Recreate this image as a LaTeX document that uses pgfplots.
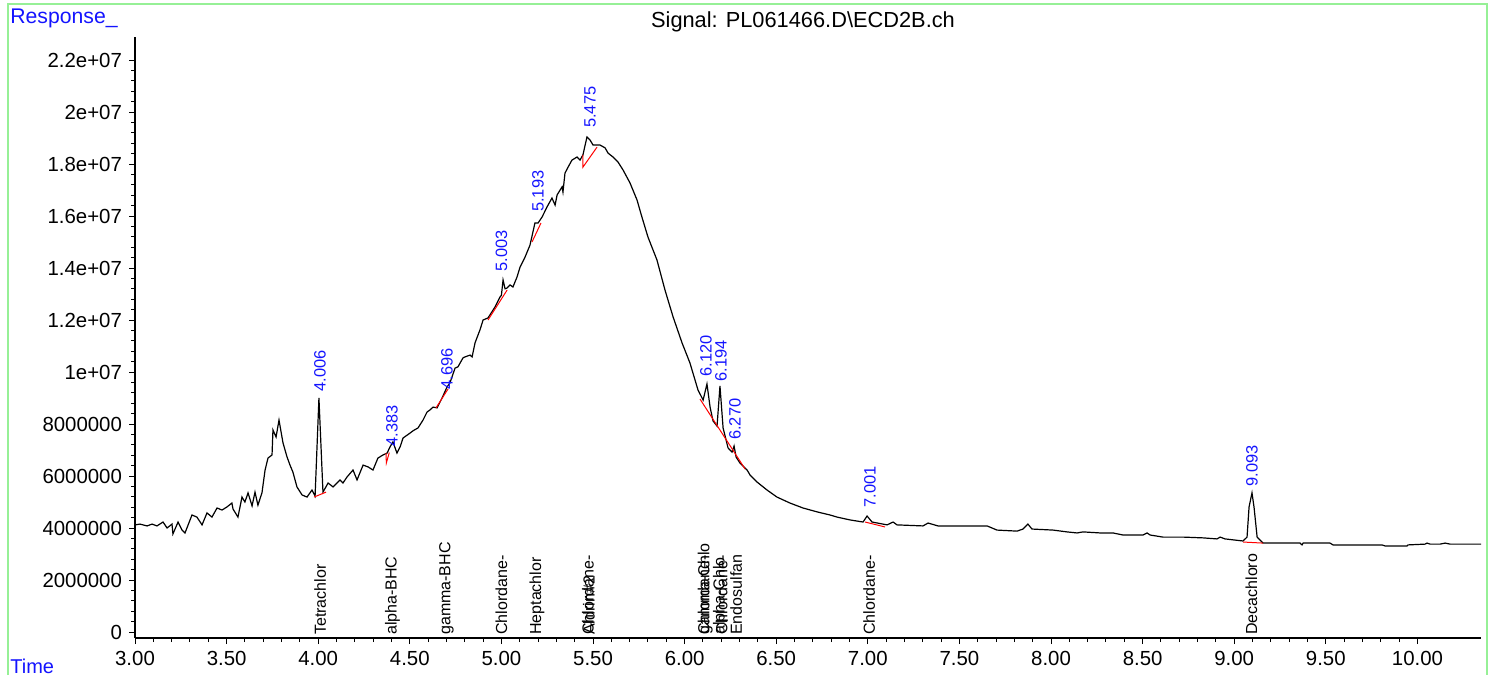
\documentclass[border=0pt]{standalone}
\usepackage{fontspec}
\setmainfont{Liberation Sans}
\usepackage{pgfplots}
\pgfplotsset{compat=1.18}
\definecolor{framegreen}{RGB}{150,240,150}
\definecolor{rtblue}{RGB}{20,20,255}

\pgfplotstableread{
t R
3.000 4.12e6
3.027 4.15e6
3.066 4.08e6
3.093 4.15e6
3.120 4.08e6
3.153 4.23e6
3.175 4.00e6
3.202 4.15e6
3.207 3.77e6
3.235 4.23e6
3.257 3.92e6
3.273 3.81e6
3.311 4.50e6
3.338 4.42e6
3.366 4.12e6
3.393 4.58e6
3.420 4.42e6
3.448 4.77e6
3.475 4.69e6
3.502 4.81e6
3.529 4.96e6
3.535 4.73e6
3.562 4.42e6
3.584 5.19e6
3.600 5.00e6
3.617 5.35e6
3.639 4.85e6
3.655 5.38e6
3.671 4.88e6
3.693 5.35e6
3.710 6.23e6
3.726 6.69e6
3.748 6.81e6
3.753 7.77e6
3.770 7.50e6
3.786 8.15e6
3.808 7.27e6
3.830 6.73e6
3.846 6.42e6
3.862 6.15e6
3.884 5.58e6
3.912 5.27e6
3.939 5.19e6
3.966 5.46e6
3.983 5.23e6
4.004 9.00e6
4.026 5.38e6
4.054 5.73e6
4.081 5.58e6
4.119 5.85e6
4.135 5.73e6
4.157 5.96e6
4.190 6.23e6
4.212 5.85e6
4.245 6.42e6
4.272 6.35e6
4.299 6.23e6
4.326 6.69e6
4.354 6.81e6
4.376 6.88e6
4.392 7.12e6
4.408 7.31e6
4.430 6.88e6
4.447 7.12e6
4.463 7.46e6
4.501 7.65e6
4.520 7.75e6
4.545 7.85e6
4.572 8.15e6
4.594 8.46e6
4.610 8.54e6
4.627 8.65e6
4.649 8.62e6
4.676 9.00e6
4.703 9.42e6
4.719 9.58e6
4.747 10.15e6
4.763 10.20e6
4.790 10.54e6
4.801 10.58e6
4.829 10.65e6
4.840 10.58e6
4.856 11.12e6
4.883 11.62e6
4.900 12.00e6
4.927 12.08e6
4.965 12.50e6
4.992 12.88e6
5.000 12.95e6
5.009 13.54e6
5.020 13.20e6
5.031 13.23e6
5.047 13.35e6
5.063 13.27e6
5.085 13.65e6
5.102 14.04e6
5.129 14.42e6
5.156 14.88e6
5.183 15.73e6
5.200 15.73e6
5.222 15.96e6
5.249 16.35e6
5.276 16.69e6
5.293 16.42e6
5.304 16.81e6
5.331 17.12e6
5.336 16.92e6
5.347 17.65e6
5.364 17.88e6
5.385 18.15e6
5.413 18.27e6
5.429 18.15e6
5.445 18.35e6
5.467 19.04e6
5.484 18.92e6
5.500 18.73e6
5.538 18.73e6
5.566 18.62e6
5.582 18.42e6
5.609 18.27e6
5.636 18.08e6
5.664 17.77e6
5.702 17.27e6
5.740 16.62e6
5.767 15.96e6
5.800 15.19e6
5.849 14.31e6
5.893 13.15e6
5.937 12.12e6
5.986 11.12e6
6.029 10.35e6
6.073 9.31e6
6.101 8.92e6
6.122 9.54e6
6.139 8.65e6
6.155 8.12e6
6.177 7.92e6
6.193 9.46e6
6.210 7.85e6
6.237 7.08e6
6.259 6.92e6
6.270 7.15e6
6.281 6.73e6
6.302 6.50e6
6.341 6.23e6
6.357 6.04e6
6.395 5.77e6
6.450 5.46e6
6.504 5.19e6
6.575 4.96e6
6.646 4.77e6
6.723 4.62e6
6.794 4.50e6
6.832 4.42e6
6.903 4.31e6
6.974 4.23e6
6.996 4.46e6
7.023 4.23e6
7.105 4.12e6
7.138 4.23e6
7.159 4.12e6
7.301 4.08e6
7.329 4.19e6
7.383 4.08e6
7.596 4.08e6
7.651 4.08e6
7.705 3.92e6
7.815 3.88e6
7.847 3.96e6
7.874 4.15e6
7.896 3.96e6
8.011 3.92e6
8.087 3.85e6
8.142 3.81e6
8.175 3.85e6
8.268 3.81e6
8.338 3.81e6
8.393 3.73e6
8.502 3.73e6
8.524 3.81e6
8.541 3.73e6
8.611 3.65e6
8.721 3.65e6
8.830 3.62e6
8.906 3.58e6
8.923 3.65e6
8.950 3.58e6
9.048 3.50e6
9.070 3.65e6
9.081 4.81e6
9.097 5.35e6
9.108 4.81e6
9.125 3.65e6
9.157 3.42e6
9.359 3.42e6
9.370 3.35e6
9.376 3.42e6
9.523 3.42e6
9.539 3.35e6
9.807 3.35e6
9.823 3.31e6
9.943 3.31e6
9.949 3.35e6
10.042 3.38e6
10.052 3.42e6
10.069 3.38e6
10.124 3.38e6
10.151 3.42e6
10.178 3.38e6
10.347 3.38e6
}\signal

\begin{document}
\begin{tikzpicture}[
    rt/.style={font=\fontsize{8.2}{9.6}\selectfont, text=rtblue, rotate=90, anchor=west, inner sep=0pt},
    cmp/.style={font=\fontsize{8}{9.6}\selectfont, rotate=90, anchor=west, inner sep=0pt}]
\path[use as bounding box] (-67.5pt,-18.5pt) rectangle (679.5pt,319pt);
\draw[framegreen, line width=1pt] (-63.5pt,-18.5pt) -- (-63.5pt,317pt) -- (676pt,317pt) -- (676pt,-18.5pt);
\node[anchor=west, inner sep=0pt, text=rtblue, font=\fontsize{10.6}{12}\selectfont] at (-62.5pt,310pt) {Response\_};
\node[anchor=west, inner sep=0pt, text=rtblue, font=\fontsize{10}{12}\selectfont] at (-62.5pt,-14pt) {Time};
\node[inner sep=0pt, font=\fontsize{10.9}{12}\selectfont] at (334pt,308pt) {Signal: PL061466.D\textbackslash ECD2B.ch};

\begin{axis}[
    at={(0,0)}, anchor=south west,
    scale only axis,
    width=673pt, height=300.5pt,
    xmin=3, xmax=10.347,
    ymin=-0.2308e6, ymax=22.885e6,
    axis x line*=bottom, axis y line*=left,
    axis line style={line width=0.6pt},
    clip=false,
    tick align=outside,
    major tick length=3pt, minor tick length=2pt,
    every tick/.style={black, line width=0.5pt},
    xtick={3,3.5,4,4.5,5,5.5,6,6.5,7,7.5,8,8.5,9,9.5,10},
    xticklabels={3.00,3.50,4.00,4.50,5.00,5.50,6.00,6.50,7.00,7.50,8.00,8.50,9.00,9.50,10.00},
    minor x tick num=4,
    ytick={0,2e6,4e6,6e6,8e6,10e6,12e6,14e6,16e6,18e6,20e6,22e6},
    yticklabels={0,2000000,4000000,6000000,8000000,1e+07,1.2e+07,1.4e+07,1.6e+07,1.8e+07,2e+07,2.2e+07},
    minor y tick num=4,
    scaled ticks=false,
    ticklabel style={font=\fontsize{10.2}{12}\selectfont},
]
\addplot[black, line width=0.6pt] table[x=t, y=R] {\signal};

% integration baselines
\addplot[red, line width=0.5pt] coordinates {(3.977,5.19e6) (4.043,5.38e6)};
\addplot[red, line width=0.5pt] coordinates {(4.370,6.88e6) (4.372,6.50e6) (4.388,6.90e6)};
\addplot[red, line width=0.5pt] coordinates {(4.643,8.62e6) (4.709,9.35e6)};
\addplot[red, line width=0.5pt] coordinates {(4.927,12.00e6) (5.031,13.15e6)};
\addplot[red, line width=0.5pt] coordinates {(5.167,15.00e6) (5.216,15.73e6)};
\addplot[red, line width=0.5pt] coordinates {(5.445,18.35e6) (5.445,17.88e6) (5.522,18.65e6)};
\addplot[red, line width=0.5pt] coordinates {(6.084,8.96e6) (6.330,6.27e6)};
\addplot[red, line width=0.5pt] coordinates {(6.985,4.23e6) (7.094,4.04e6)};
\addplot[red, line width=0.5pt] coordinates {(9.048,3.46e6) (9.157,3.42e6)};

% retention times
\node[rt] at (axis cs:4.010,9.23e6) {4.006};
\node[rt] at (axis cs:4.403,7.12e6) {4.383};
\node[rt] at (axis cs:4.703,9.31e6) {4.696};
\node[rt] at (axis cs:5.000,13.85e6) {5.003};
\node[rt] at (axis cs:5.200,16.15e6) {5.193};
\node[rt] at (axis cs:5.484,19.38e6) {5.475};
\node[rt] at (axis cs:6.117,9.81e6) {6.120};
\node[rt] at (axis cs:6.199,9.62e6) {6.194};
\node[rt] at (axis cs:6.275,7.38e6) {6.270};
\node[rt] at (axis cs:7.012,4.77e6) {7.001};
\node[rt] at (axis cs:9.097,5.58e6) {9.093};

% compound names
\node[cmp] at (axis cs:4.010,-0.12e6) {Tetrachlor};
\node[cmp] at (axis cs:4.405,-0.12e6) {alpha-BHC};
\node[cmp] at (axis cs:4.700,-0.12e6) {gamma-BHC};
\node[cmp] at (axis cs:5.000,-0.12e6) {Chlordane-};
\node[cmp] at (axis cs:5.194,-0.12e6) {Heptachlor};
\node[cmp] at (axis cs:5.472,-0.12e6) {Chlordane-};
\node[cmp] at (axis cs:5.478,-0.12e6) {Aldrin\#2};
\node[cmp] at (axis cs:6.104,-0.12e6) {Chlordane-};
\node[cmp] at (axis cs:6.112,-0.12e6) {gamma-Chlo};
\node[cmp] at (axis cs:6.196,-0.12e6) {alpha-Chlo};
\node[cmp] at (axis cs:6.202,-0.12e6) {Chlordane-};
\node[cmp] at (axis cs:6.281,-0.12e6) {Endosulfan};
\node[cmp] at (axis cs:7.007,-0.12e6) {Chlordane-};
\node[cmp] at (axis cs:9.094,-0.12e6) {Decachloro};
\end{axis}
\end{tikzpicture}
\end{document}
